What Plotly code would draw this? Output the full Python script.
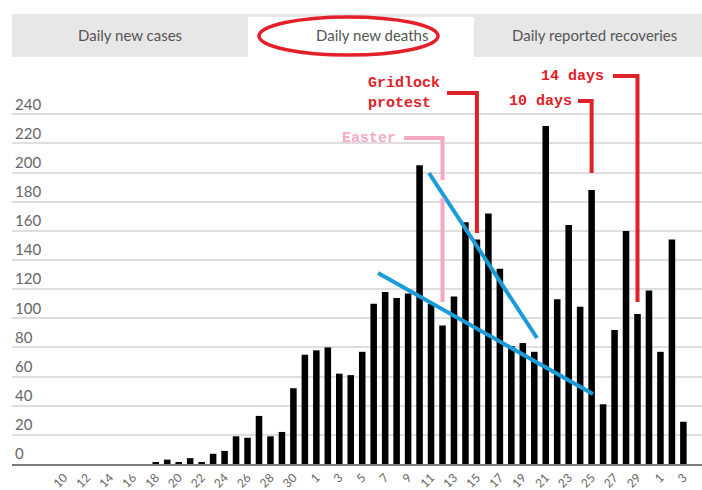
import plotly.graph_objects as go

# ---------------- data ----------------
day_labels = ["10", "11", "12", "13", "14", "15", "16", "17", "18", "19", "20",
              "21", "22", "23", "24", "25", "26", "27", "28", "29", "30", "31",
              "1", "2", "3", "4", "5", "6", "7", "8", "9", "10", "11", "12",
              "13", "14", "15", "16", "17", "18", "19", "20", "21", "22", "23",
              "24", "25", "26", "27", "28", "29", "30", "1", "2", "3"]
daily_deaths = [0, 0, 0, 0, 0, 0, 0, 0, 1, 3, 1,
                4, 1, 7, 9, 19, 18, 33, 19, 22, 52, 75,
                78, 80, 62, 61, 77, 110, 118, 114, 117, 205, 110, 95,
                115, 166, 154, 172, 134, 81, 83, 77, 232, 113, 164,
                108, 188, 41, 92, 160, 103, 119, 77, 154, 29]
y_ticks = [0, 20, 40, 60, 80, 100, 120, 140, 160, 180, 200, 220, 240]
tab_names = ["Daily new cases", "Daily new deaths", "Daily reported recoveries"]

x_idx = list(range(len(day_labels)))
tick_idx = x_idx[::2]
tick_txt = day_labels[::2]

# ---------------- geometry ----------------
W, H = 702, 490
L, R, T, B = 12, 0, 40, 26
PX_PER_DAY = 11.47
PX_PER_UNIT = 1.457
X0_PX = 64  # pixel of first category
x_lo = -(X0_PX - L) / PX_PER_DAY
x_hi = x_lo + (W - L - R) / PX_PER_DAY
y_hi = (H - T - B) / PX_PER_UNIT


def px2x(px):
    return (px - X0_PX) / PX_PER_DAY


def py2y(py):
    return (H - B - py) / PX_PER_UNIT


def ppx(px):
    return (px - L) / (W - L - R)


def ppy(py):
    return (H - B - py) / (H - T - B)


fig = go.Figure()
fig.add_trace(go.Bar(x=x_idx, y=daily_deaths, width=0.57,
                     marker=dict(color="black", line=dict(width=0)),
                     hoverinfo="skip"))

shapes = []
annotations = []

# tabs
shapes.append(dict(type="rect", xref="paper", yref="paper",
                   x0=ppx(12), x1=ppx(702), y0=ppy(57), y1=ppy(14),
                   fillcolor="#e7e7e7", line=dict(width=0), layer="below"))
shapes.append(dict(type="rect", xref="paper", yref="paper",
                   x0=ppx(248), x1=ppx(474), y0=ppy(59), y1=ppy(17),
                   fillcolor="white", line=dict(width=0), layer="below"))
for name, cx in zip(tab_names, [130, 372, 594]):
    annotations.append(dict(text=name, xref="paper", yref="paper",
                            x=ppx(cx), y=ppy(35), showarrow=False,
                            xanchor="center", yanchor="middle",
                            font=dict(family="Lato", size=15, color="#555555")))
shapes.append(dict(type="circle", xref="paper", yref="paper",
                   x0=ppx(259), x1=ppx(438), y0=ppy(55), y1=ppy(17),
                   line=dict(color="#e3202a", width=3.5)))

# trend lines
BLUE = "#1b9bd7"
shapes.append(dict(type="line", x0=px2x(429), y0=py2y(173), x1=px2x(537), y1=py2y(338),
                   line=dict(color=BLUE, width=4)))
shapes.append(dict(type="line", x0=px2x(378), y0=py2y(273), x1=px2x(593), y1=py2y(394),
                   line=dict(color=BLUE, width=4)))

# callouts: (text, colour, bar index, text left px, text centre y px, line y px, end y px, start px)
RED = "#de2228"
PINK = "#f6a9c6"
callouts = [
    ("Easter", PINK, 33, 340, 138, 138, 302, 404),
    ("Gridlock<br>protest", RED, 36, 366, 93, 93, 233, 447),
    ("10 days", RED, 46, 507, 101, 101, 173, 578),
    ("14 days", RED, 50, 539, 76, 76, 302, 613),
]
for text, col, bar, tx, ty, ly, ey, sx in callouts:
    annotations.append(dict(text=text, x=px2x(tx), y=py2y(ty), showarrow=False,
                            xanchor="left", yanchor="middle", align="left",
                            font=dict(family="Liberation Mono", size=15, color=col,
                                      weight="bold")))
    if text == "Easter":
        path = f"M {px2x(sx)},{py2y(ly)} L {bar},{py2y(ly)} L {bar},{py2y(180)}"
        shapes.append(dict(type="path", path=path, line=dict(color=col, width=4)))
        shapes.append(dict(type="line", x0=bar, x1=bar, y0=py2y(198), y1=py2y(ey),
                           line=dict(color=col, width=4)))
    else:
        path = f"M {px2x(sx)},{py2y(ly)} L {bar},{py2y(ly)} L {bar},{py2y(ey)}"
        shapes.append(dict(type="path", path=path, line=dict(color=col, width=4)))

fig.update_layout(
    width=W, height=H,
    margin=dict(l=L, r=R, t=T, b=B, autoexpand=False),
    paper_bgcolor="white", plot_bgcolor="white",
    showlegend=False,
    shapes=shapes, annotations=annotations,
    xaxis=dict(range=[x_lo, x_hi], tickmode="array", tickvals=tick_idx,
               ticktext=tick_txt, tickangle=-45, showgrid=False, zeroline=False,
               showline=True, linecolor="#7a7a7a", linewidth=2, ticks="",
               tickfont=dict(family="Lato", size=12, color="#666666"),
               automargin=False, fixedrange=True),
    yaxis=dict(range=[0, y_hi], tickmode="array", tickvals=y_ticks,
               showgrid=True, gridcolor="#dedede", gridwidth=1.5,
               zeroline=False, showline=False, ticks="",
               ticklabelposition="inside", ticklabelshift=-10, ticklabelstandoff=0,
               tickfont=dict(family="Lato", size=15, color="#666666"),
               automargin=False, fixedrange=True),
    bargap=0.4,
)

fig.write_html("out.html", config={"displayModeBar": False},
               post_script="document.body.style.margin='0';document.body.style.overflow='hidden';")
